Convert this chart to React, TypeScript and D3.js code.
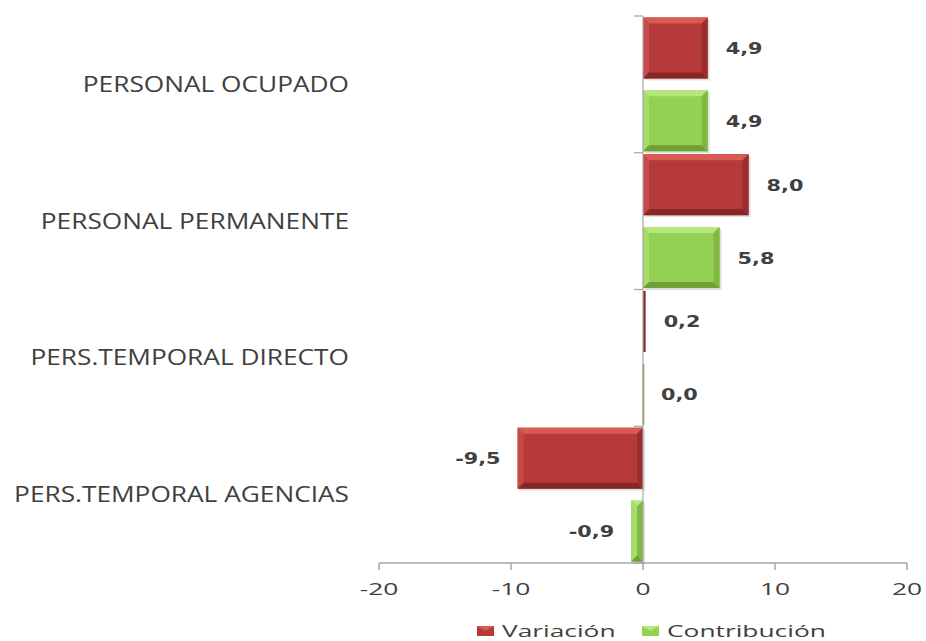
import React from 'react';
import * as d3 from 'd3';

const categories = ['PERSONAL OCUPADO', 'PERSONAL PERMANENTE', 'PERS.TEMPORAL DIRECTO', 'PERS.TEMPORAL AGENCIAS'];
const seriesNames = ['Variación', 'Contribución'];
const variacion = [4.9, 8.0, 0.2, -9.5];
const contribucion = [4.9, 5.8, 0.0, -0.9];
const xTicks = [-20, -10, 0, 10, 20];

const W = 926;
const H = 641;

const palettes: Record<string, { main: string; top: string; left: string; bottom: string; right: string; edge: string }> = {
  'Variación': { main: '#B63A39', top: '#D85A55', left: '#C84A47', bottom: '#872626', right: '#9A2E2D', edge: '#7A2222' },
  'Contribución': { main: '#93D152', top: '#B7E67F', left: '#A6DD68', bottom: '#6F9F36', right: '#80B843', edge: '#6A9A35' },
};

const x = d3.scaleLinear().domain([-20, 20]).range([379, 907]);
const y = d3.scaleBand<string>().domain(categories).range([16, 563]);
const ys = d3.scaleBand<string>().domain(seriesNames).range([0, y.bandwidth()]).paddingInner(0.164).paddingOuter(0.02);

function BevelBar({ x0, x1, y0, y1, series }: { x0: number; x1: number; y0: number; y1: number; series: string }) {
  const p = palettes[series];
  const w = x1 - x0;
  const h = y1 - y0;
  if (w < 1.5) {
    return <line x1={x0 + 0.5} x2={x0 + 0.5} y1={y0} y2={y1} stroke={p.edge} strokeWidth={1.5} />;
  }
  if (w < 5) {
    return <rect x={x0} y={y0} width={w} height={h} fill={p.bottom} />;
  }
  const b = Math.min(6, w / 2, h / 2);
  const pts = (arr: number[][]) => arr.map((q) => q.join(',')).join(' ');
  return (
    <g>
      <rect x={x0 + 2} y={y0 + 2} width={w} height={h} fill="#000" opacity={0.12} />
      <rect x={x0} y={y0} width={w} height={h} fill={p.main} />
      <polygon points={pts([[x0, y0], [x1, y0], [x1 - b, y0 + b], [x0 + b, y0 + b]])} fill={p.top} />
      <polygon points={pts([[x0, y0], [x0 + b, y0 + b], [x0 + b, y1 - b], [x0, y1]])} fill={p.left} />
      <polygon points={pts([[x0, y1], [x0 + b, y1 - b], [x1 - b, y1 - b], [x1, y1]])} fill={p.bottom} />
      <polygon points={pts([[x1, y0], [x1, y1], [x1 - b, y1 - b], [x1 - b, y0 + b]])} fill={p.right} />
    </g>
  );
}

function SText({ x: tx, y: ty, sx, children, ...rest }: any) {
  return (
    <text transform={`translate(${tx},${ty}) scale(${sx},1)`} {...rest}>
      {children}
    </text>
  );
}

const fmt = (v: number) => v.toFixed(1).replace('.', ',');

export default function App() {
  const seriesData: Record<string, number[]> = { 'Variación': variacion, 'Contribución': contribucion };
  const zeroX = x(0);
  const axisColor = '#A6A6A6';
  return (
    <svg width={W} height={H} style={{ position: 'absolute', left: 0, top: 0, background: '#fff' }}>
      {/* bars */}
      {seriesNames.map((s) =>
        categories.map((c, i) => {
          const v = seriesData[s][i];
          const y0 = (y(c) as number) + (ys(s) as number);
          const y1 = y0 + ys.bandwidth();
          const xa = Math.min(x(v), zeroX);
          const xb = Math.max(x(v), zeroX);
          return <BevelBar key={s + c} x0={xa} x1={xb} y0={y0} y1={y1} series={s} />;
        })
      )}
      {/* vertical axis */}
      <line x1={zeroX} x2={zeroX} y1={16} y2={563} stroke={axisColor} strokeWidth={1.2} />
      {[...categories.map((c) => y(c) as number), 563].map((t, i) => (
        <line key={'yt' + i} x1={zeroX - 9} x2={zeroX} y1={t} y2={t} stroke={axisColor} strokeWidth={1.2} />
      ))}
      {/* horizontal axis */}
      <line x1={x(-20)} x2={x(20)} y1={563} y2={563} stroke={axisColor} strokeWidth={1.5} />
      {xTicks.map((t) => (
        <line key={'xt' + t} x1={x(t)} x2={x(t)} y1={563} y2={570} stroke={axisColor} strokeWidth={1.5} />
      ))}
      {xTicks.map((t) => (
        <SText key={'xl' + t} x={x(t)} y={595} sx={1.6} textAnchor="middle" fontFamily="Open Sans" fontSize={16.5} fill="#404040">
          {t < 0 ? '-' + Math.abs(t) : String(t)}
        </SText>
      ))}
      {/* category labels */}
      {categories.map((c) => (
        <SText key={'cl' + c} x={349} y={(y(c) as number) + y.bandwidth() / 2 + 7.5} sx={1.25} textAnchor="end" fontFamily="Open Sans" fontSize={21} fill="#404040">
          {c}
        </SText>
      ))}
      {/* value labels */}
      {seriesNames.map((s) =>
        categories.map((c, i) => {
          const v = seriesData[s][i];
          const cy = (y(c) as number) + (ys(s) as number) + ys.bandwidth() / 2;
          const neg = v < 0;
          return (
            <SText key={'vl' + s + c} x={neg ? x(v) - 17 : x(v) + 18} y={cy + 6} sx={1.3} textAnchor={neg ? 'end' : 'start'} fontFamily="DejaVu Sans" fontWeight="bold" fontSize={16} fill="#404040">
              {fmt(v)}
            </SText>
          );
        })
      )}
      {/* legend */}
      {seriesNames.map((s, i) => {
        const lx = i === 0 ? 477 : 642;
        const p = palettes[s];
        return (
          <g key={'lg' + s}>
            <rect x={lx} y={626} width={17} height={10} fill={p.main} />
            <polygon points={`${lx},626 ${lx + 17},626 ${lx + 8.5},631`} fill={p.top} />
            <SText x={lx + 25} y={637} sx={1.55} fontFamily="Open Sans" fontSize={17} fill="#404040">
              {s}
            </SText>
          </g>
        );
      })}
    </svg>
  );
}
